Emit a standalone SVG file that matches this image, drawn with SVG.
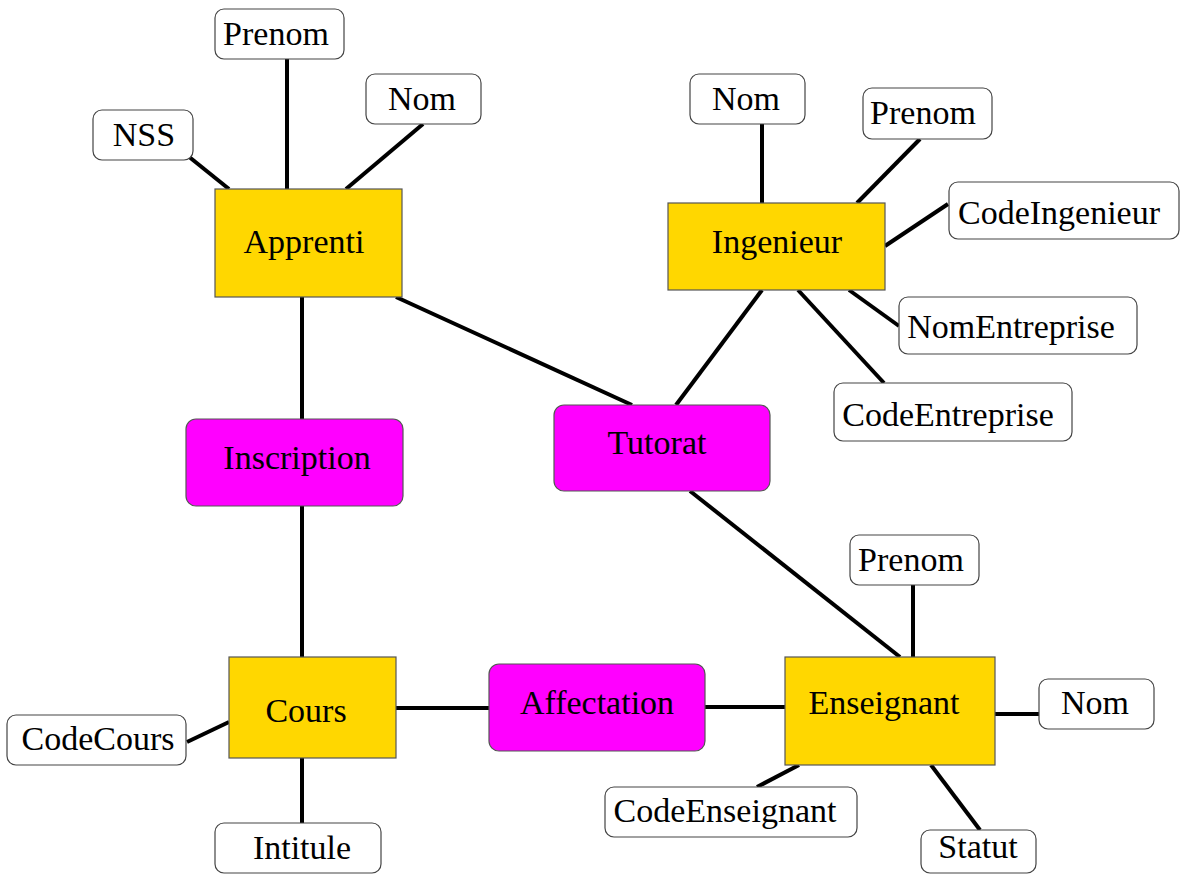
<svg xmlns="http://www.w3.org/2000/svg" width="1180" height="874" viewBox="0 0 1180 874">
<style>
.ent{fill:#FFD700;stroke:#555;stroke-width:1.2}
.rel{fill:#FF00FF;stroke:#555;stroke-width:1.2}
.att{fill:#fff;stroke:#444;stroke-width:1.2}
text{font-family:"Liberation Serif","Times New Roman",serif;font-size:34px;fill:#000;text-anchor:middle}
.ln line{stroke:#000;stroke-width:4}
</style>
<rect width="1180" height="874" fill="#fff"/>
<g id="connectors" class="ln">
<line x1="188" y1="156" x2="229" y2="189"/>
<line x1="287" y1="59" x2="287" y2="189"/>
<line x1="423" y1="124" x2="346" y2="189"/>
<line x1="396" y1="297" x2="632" y2="405"/>
<line x1="302" y1="297" x2="302" y2="419"/>
<line x1="302" y1="506" x2="302" y2="657"/>
<line x1="302" y1="758" x2="302" y2="823"/>
<line x1="187" y1="742" x2="229" y2="722"/>
<line x1="396" y1="708" x2="489" y2="708"/>
<line x1="705" y1="707" x2="785" y2="707"/>
<line x1="762" y1="124" x2="762" y2="203"/>
<line x1="920" y1="139" x2="857" y2="203"/>
<line x1="948" y1="204" x2="885" y2="246"/>
<line x1="849" y1="290" x2="899" y2="326"/>
<line x1="798" y1="290" x2="884" y2="383"/>
<line x1="762" y1="290" x2="676" y2="405"/>
<line x1="690" y1="491" x2="900" y2="657"/>
<line x1="913" y1="585" x2="913" y2="657"/>
<line x1="995" y1="714" x2="1039" y2="714"/>
<line x1="757" y1="787" x2="799" y2="765"/>
<line x1="931" y1="765" x2="980" y2="830"/>
</g>
<g id="Apprenti"><rect class="ent" x="215" y="189" width="187" height="108"/><text x="304" y="253">Apprenti</text></g>
<g id="Ingenieur"><rect class="ent" x="668" y="203" width="217" height="87"/><text x="777" y="253">Ingenieur</text></g>
<g id="Cours"><rect class="ent" x="229" y="657" width="167" height="101"/><text x="306" y="722">Cours</text></g>
<g id="Enseignant"><rect class="ent" x="785" y="657" width="210" height="108"/><text x="884" y="714">Enseignant</text></g>
<g id="Inscription"><rect class="rel" x="186" y="419" width="217" height="87" rx="10"/><text x="297" y="469">Inscription</text></g>
<g id="Tutorat"><rect class="rel" x="554" y="405" width="216" height="86" rx="10"/><text x="657" y="454">Tutorat</text></g>
<g id="Affectation"><rect class="rel" x="489" y="664" width="216" height="87" rx="10"/><text x="597" y="714">Affectation</text></g>
<g id="Apprenti_Prenom"><rect class="att" x="215" y="9" width="129" height="50" rx="9"/><text x="276" y="45">Prenom</text></g>
<g id="Apprenti_NSS"><rect class="att" x="93" y="110" width="100" height="50" rx="9"/><text x="144" y="146">NSS</text></g>
<g id="Apprenti_Nom"><rect class="att" x="366" y="74" width="115" height="50" rx="9"/><text x="422" y="110">Nom</text></g>
<g id="Ingenieur_Nom"><rect class="att" x="690" y="74" width="115" height="50" rx="9"/><text x="746" y="110">Nom</text></g>
<g id="Ingenieur_Prenom"><rect class="att" x="863" y="88" width="129" height="51" rx="9"/><text x="923" y="124">Prenom</text></g>
<g id="CodeIngenieur"><rect class="att" x="949" y="182" width="230" height="57" rx="9"/><text x="1059" y="224">CodeIngenieur</text></g>
<g id="NomEntreprise"><rect class="att" x="899" y="297" width="238" height="57" rx="9"/><text x="1011" y="338">NomEntreprise</text></g>
<g id="CodeEntreprise"><rect class="att" x="834" y="383" width="238" height="58" rx="9"/><text x="948" y="426">CodeEntreprise</text></g>
<g id="CodeCours"><rect class="att" x="7" y="715" width="179" height="50" rx="9"/><text x="98" y="750">CodeCours</text></g>
<g id="Intitule"><rect class="att" x="215" y="823" width="166" height="50" rx="9"/><text x="302" y="859">Intitule</text></g>
<g id="Enseignant_Prenom"><rect class="att" x="850" y="535" width="129" height="50" rx="9"/><text x="911" y="571">Prenom</text></g>
<g id="Enseignant_Nom"><rect class="att" x="1039" y="679" width="115" height="50" rx="9"/><text x="1095" y="714">Nom</text></g>
<g id="CodeEnseignant"><rect class="att" x="605" y="787" width="252" height="50" rx="9"/><text x="725" y="822">CodeEnseignant</text></g>
<g id="Statut"><rect class="att" x="921" y="830" width="115" height="43" rx="9"/><text x="978" y="858">Statut</text></g>
</svg>
